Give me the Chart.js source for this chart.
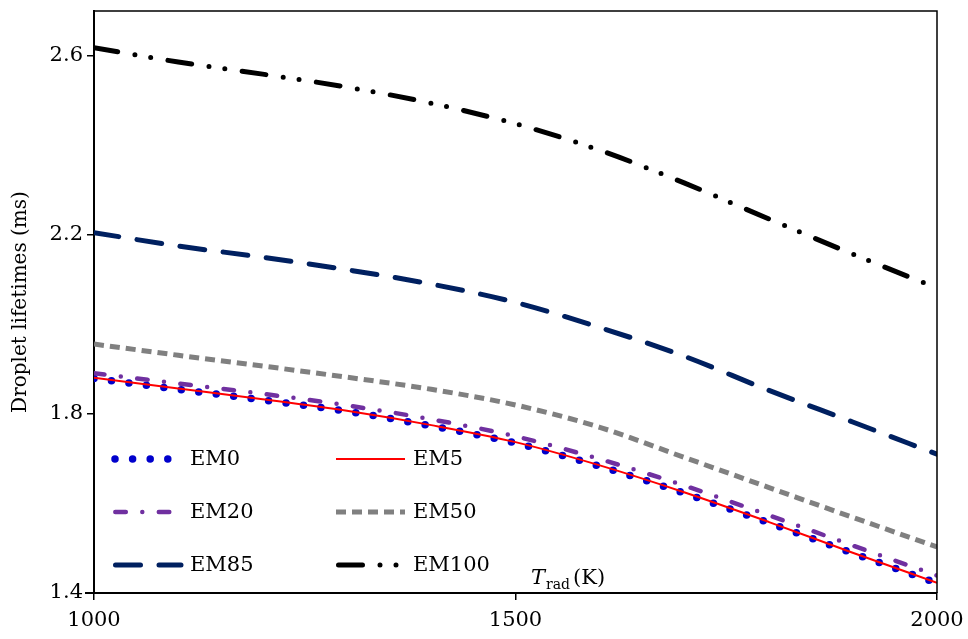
<!DOCTYPE html>
<html lang="en">
<head>
    <meta charset="UTF-8">
    <title>Droplet lifetimes vs radiation temperature</title>
    <script src="https://cdn.jsdelivr.net/npm/chart.js"></script>
    <style>
        body { margin: 0; background: #fff; }
        #wrap { width: 968px; height: 639px; }
    </style>
</head>
<body>
    <div id="wrap">
        <canvas id="lifeChart" width="968" height="639"></canvas>
    </div>

    <script>
        // radiation temperature (K) and droplet lifetimes (ms) per fuel blend
        const temps = [1000, 1100, 1200, 1300, 1400, 1500, 1600, 1700, 1800, 1900, 2000];
        const em0   = [1.879, 1.855, 1.831, 1.806, 1.773, 1.735, 1.683, 1.623, 1.557, 1.489, 1.422];
        const em5   = [1.881, 1.857, 1.833, 1.807, 1.775, 1.737, 1.685, 1.625, 1.559, 1.490, 1.423];
        const em20  = [1.891, 1.868, 1.845, 1.819, 1.788, 1.750, 1.699, 1.640, 1.574, 1.506, 1.439];
        const em50  = [1.956, 1.931, 1.907, 1.882, 1.855, 1.820, 1.770, 1.703, 1.636, 1.569, 1.503];
        const em85  = [2.205, 2.175, 2.150, 2.122, 2.090, 2.049, 1.993, 1.929, 1.853, 1.782, 1.710];
        const em100 = [2.618, 2.586, 2.559, 2.530, 2.494, 2.448, 2.389, 2.316, 2.236, 2.157, 2.081];

        const seriesNames = ['EM0', 'EM5', 'EM20', 'EM50', 'EM85', 'EM100'];
        const xTicks = [1000, 1500, 2000];
        const yTicks = [1.4, 1.8, 2.2, 2.6];

        const FONT = 'DejaVu Serif';

        function pts(values) {
            return temps.map((t, i) => ({ x: t, y: values[i] }));
        }

        // line styles for each series (also used by the legend)
        const styles = {
            EM0:   { color: '#0000CC', width: 7.5, dash: [0, 17.6], cap: 'round', order: 3 },
            EM5:   { color: '#FF0000', width: 2,   dash: [],        cap: 'butt',  order: 0 },
            EM20:  { color: '#7030A0', width: 4.5, dash: [10.5, 16.5, 0, 16.5], cap: 'round', order: 2 },
            EM50:  { color: '#808080', width: 5,   dash: [10, 6],   cap: 'butt',  order: 4 },
            EM85:  { color: '#002060', width: 5,   dash: [25, 18.5], cap: 'round', order: 5 },
            EM100: { color: '#000000', width: 5,   dash: [24, 17.5, 0, 16, 0, 17.5], cap: 'round', order: 6 }
        };

        const seriesData = [em0, em5, em20, em50, em85, em100];

        const datasets = seriesNames.map((name, i) => ({
            label: name,
            data: pts(seriesData[i]),
            borderColor: styles[name].color,
            borderWidth: styles[name].width,
            borderDash: styles[name].dash,
            borderCapStyle: styles[name].cap,
            pointRadius: 0,
            fill: false,
            cubicInterpolationMode: 'monotone',
            order: styles[name].order
        }));

        // legend inside the plot, two columns by three rows
        const legendLayout = [
            { name: 'EM0',   x0: 115,   x1: 168, y: 459, tx: 190 },
            { name: 'EM5',   x0: 336,   x1: 405, y: 459, tx: 413 },
            { name: 'EM20',  x0: 115.3, x1: 171, y: 512, tx: 190 },
            { name: 'EM50',  x0: 336,   x1: 405, y: 512, tx: 413 },
            { name: 'EM85',  x0: 115.5, x1: 181, y: 565, tx: 190 },
            { name: 'EM100', x0: 338.5, x1: 397, y: 565, tx: 413 }
        ];

        const framePlugin = {
            id: 'frame',
            afterDraw(chart) {
                const ctx = chart.ctx;
                const a = chart.chartArea;
                ctx.save();
                // box round the plot, x axis line runs a little past the y axis
                ctx.strokeStyle = '#000';
                ctx.lineWidth = 1.5;
                ctx.beginPath();
                ctx.moveTo(a.left, a.top);
                ctx.lineTo(a.right, a.top);
                ctx.lineTo(a.right, a.bottom);
                ctx.stroke();
                ctx.lineWidth = 2;
                ctx.beginPath();
                ctx.moveTo(a.left - 9, a.bottom);
                ctx.lineTo(a.left, a.bottom);
                ctx.stroke();

                // legend
                legendLayout.forEach(item => {
                    const s = styles[item.name];
                    ctx.strokeStyle = s.color;
                    ctx.lineWidth = s.width;
                    ctx.lineCap = s.cap;
                    ctx.setLineDash(s.dash);
                    ctx.lineDashOffset = 0;
                    ctx.beginPath();
                    ctx.moveTo(item.x0, item.y);
                    ctx.lineTo(item.x1, item.y);
                    ctx.stroke();
                    ctx.setLineDash([]);
                    ctx.fillStyle = '#000';
                    ctx.font = '21px "' + FONT + '"';
                    ctx.textBaseline = 'middle';
                    ctx.textAlign = 'left';
                    ctx.fillText(item.name, item.tx, item.y + 1);
                });

                // x axis title, T_rad (K), sits inside the plot
                ctx.textBaseline = 'alphabetic';
                ctx.fillStyle = '#000';
                let x = 531;
                const base = 584;
                ctx.font = 'italic 21px "' + FONT + '"';
                ctx.fillText('T', x, base);
                x += ctx.measureText('T').width + 1;
                ctx.font = '14px "' + FONT + '"';
                ctx.fillText('rad', x, base + 5);
                x += ctx.measureText('rad').width + 3;
                ctx.font = '21px "' + FONT + '"';
                ctx.fillText('(K)', x, base);
                ctx.restore();
            }
        };

        const ctx = document.getElementById('lifeChart').getContext('2d');
        new Chart(ctx, {
            type: 'line',
            data: { datasets: datasets },
            options: {
                responsive: false,
                animation: false,
                layout: { padding: { top: 11, right: 31, bottom: 0, left: 0 } },
                plugins: {
                    legend: { display: false },
                    tooltip: { enabled: false }
                },
                scales: {
                    x: {
                        type: 'linear',
                        min: 1000,
                        max: 2000,
                        afterBuildTicks: scale => { scale.ticks = xTicks.map(v => ({ value: v })); },
                        afterFit: scale => {
                            scale.height = 46;
                            scale.paddingLeft = 0;
                            scale.paddingRight = 0;
                        },
                        border: { display: true, color: '#000', width: 2 },
                        grid: { drawOnChartArea: false, drawTicks: true, tickLength: 7, color: '#000', lineWidth: 1.5 },
                        ticks: {
                            color: '#000',
                            padding: 8,
                            maxRotation: 0,
                            font: { family: FONT, size: 21 },
                            callback: v => String(v)
                        }
                    },
                    y: {
                        min: 1.4,
                        max: 2.7,
                        afterBuildTicks: scale => { scale.ticks = yTicks.map(v => ({ value: v })); },
                        afterFit: scale => {
                            scale.width = 94;
                            scale.paddingTop = 0;
                            scale.paddingBottom = 0;
                        },
                        border: { display: true, color: '#000', width: 2 },
                        grid: { drawOnChartArea: false, drawTicks: true, tickLength: 7, color: '#000', lineWidth: 1.5 },
                        ticks: {
                            color: '#000',
                            padding: 4,
                            font: { family: FONT, size: 21 },
                            callback: v => v.toFixed(1)
                        },
                        title: {
                            display: true,
                            text: 'Droplet lifetimes (ms)',
                            color: '#000',
                            font: { family: FONT, size: 20 },
                            padding: { top: 9, bottom: 0 }
                        }
                    }
                }
            },
            plugins: [framePlugin]
        });
    </script>
</body>
</html>
